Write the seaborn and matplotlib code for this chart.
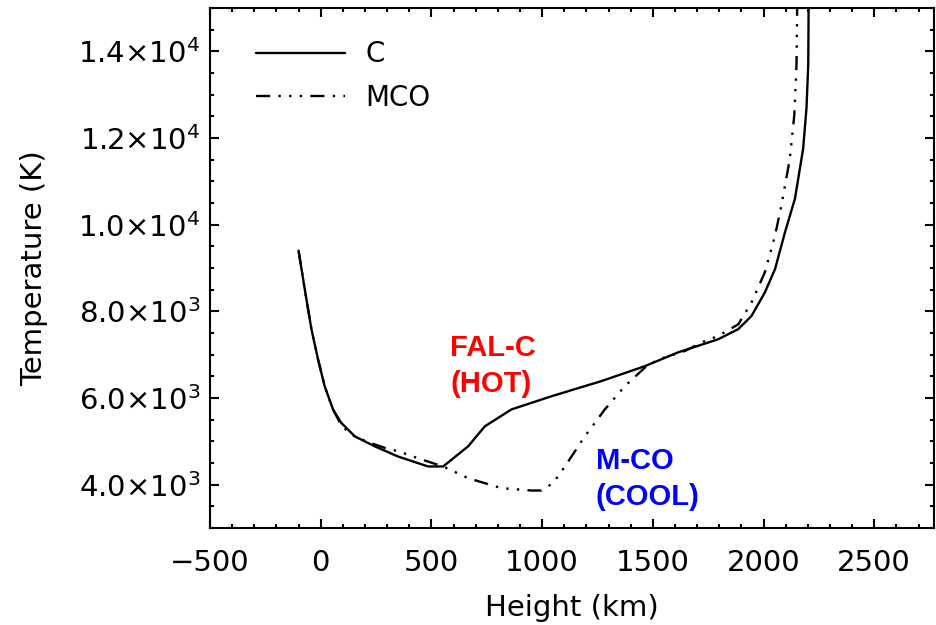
import numpy as np
import pandas as pd
import matplotlib
matplotlib.use("Agg")
import matplotlib.pyplot as plt
from matplotlib.ticker import MultipleLocator, FuncFormatter
import seaborn as sns

# Temperature profiles of the solar atmosphere
c_height = [-100, -72, -42, -12, 18, 56, 93, 154, 244, 349, 485, 553, 666, 741,
            861, 1042, 1268, 1464, 1615, 1795, 1886, 1946, 2006, 2052, 2097,
            2142, 2179, 2194, 2202, 2205]
c_temp = [9400, 8510, 7590, 6890, 6270, 5730, 5425, 5115, 4885, 4650, 4420,
          4420, 4885, 5345, 5735, 6040, 6390, 6735, 7055, 7355, 7590, 7895,
          8435, 8975, 9825, 10600, 11755, 12685, 13690, 16000]

mco_height = [-100, -72, -42, -12, 18, 56, 90, 130, 200, 289, 357, 450, 553,
              666, 816, 952, 997, 1050, 1103, 1193, 1283, 1374, 1464, 1524,
              1645, 1735, 1795, 1886, 1946, 2006, 2052, 2081, 2119, 2139, 2149,
              2152, 2153]
mco_temp = [9400, 8510, 7590, 6890, 6270, 5730, 5400, 5180, 5010, 4850, 4760,
            4590, 4420, 4150, 3920, 3865, 3865, 4040, 4420, 5115, 5735, 6275,
            6700, 6890, 7085, 7315, 7430, 7700, 8205, 8900, 9750, 10450, 11525,
            12530, 13690, 15000, 16000]

sns.set_theme(style="white")
plt.rcParams["font.family"] = ["DejaVu Sans"]
plt.rcParams["mathtext.default"] = "regular"
plt.rcParams["mathtext.fontset"] = "dejavusans"
plt.rcParams["text.color"] = "black"
plt.rcParams["axes.labelcolor"] = "black"

df_c = pd.DataFrame({"height": c_height, "temp": c_temp})
df_m = pd.DataFrame({"height": mco_height, "temp": mco_temp})

fig = plt.figure(figsize=(9.37, 6.25), dpi=100)
ax = fig.add_axes([210 / 937, 1 - 528 / 625, (934 - 210) / 937, (528 - 8) / 625])

sns.lineplot(data=df_c, x="height", y="temp", sort=False, estimator=None,
             color="black", lw=1.7, label="C", ax=ax)
sns.lineplot(data=df_m, x="height", y="temp", sort=False, estimator=None,
             color="black", lw=1.7, label="MCO", ax=ax,
             linestyle=(0, (6, 3.5, 1, 3.5, 1, 3.5, 1, 3.5)))

ax.set_xlim(-500, 2770)
ax.set_ylim(3000, 15000)

ax.xaxis.set_major_locator(MultipleLocator(500))
ax.xaxis.set_minor_locator(MultipleLocator(100))
ax.yaxis.set_major_locator(MultipleLocator(2000))
ax.yaxis.set_minor_locator(MultipleLocator(500))


def sci(v, pos):
    e = int(np.floor(np.log10(v)))
    m = v / 10 ** e
    return r"$%.1f{\times}10^{%d}$" % (m, e)


ax.yaxis.set_major_formatter(FuncFormatter(sci))

ax.tick_params(which="both", direction="in", bottom=True, left=True,
               top=True, right=True, colors="black", width=1.5,
               labelsize=21)
ax.tick_params(which="major", length=6.7)
ax.tick_params(which="minor", length=3.2)
ax.tick_params(axis="x", which="major", pad=15)
ax.tick_params(axis="y", which="major", pad=7)

for s in ax.spines.values():
    s.set_visible(True)
    s.set_color("black")
    s.set_linewidth(1.5)

ax.set_xlabel("Height (km)", fontsize=21, labelpad=12)
ax.set_ylabel("Temperature (K)", fontsize=21, labelpad=22)

ax.legend(loc="upper left", bbox_to_anchor=(0.0635, 0.938), frameon=False,
          fontsize=20, handlelength=3.2, handletextpad=0.75,
          labelspacing=0.56, borderpad=0, borderaxespad=0)

ax.text(585, 7486, "FAL-C\n(HOT)", color="#ff0000", fontsize=21,
        fontweight="bold", family=["Liberation Sans"], ha="left", va="top",
        linespacing=1.36)
ax.text(1242, 4866, "M-CO\n(COOL)", color="#0000ff", fontsize=21,
        fontweight="bold", family=["Liberation Sans"], ha="left", va="top",
        linespacing=1.36)

fig.savefig("out.png", dpi=100)
